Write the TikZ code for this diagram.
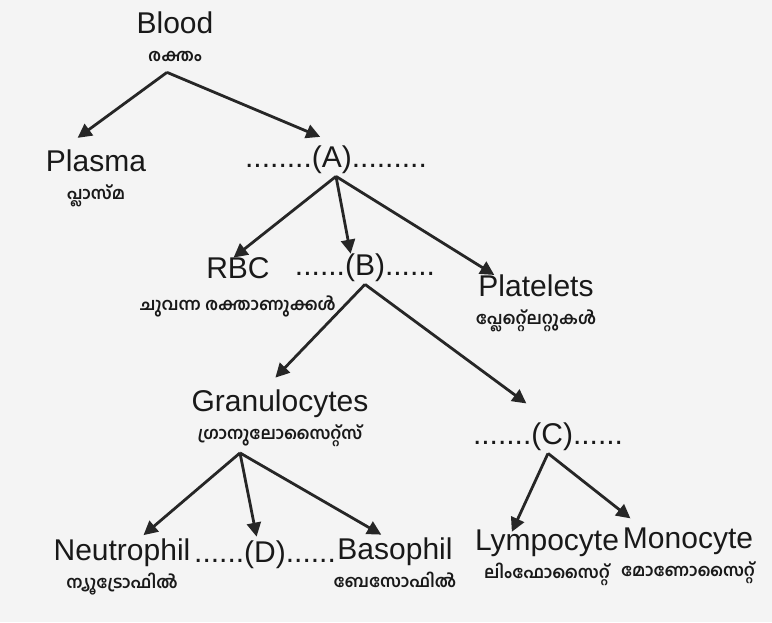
\documentclass[tikz,border=0pt]{standalone}
\usepackage{fontspec}
\setmainfont{Liberation Sans}
\newfontfamily\malfont[Script=Malayalam]{Hind Kochi}
\usetikzlibrary{arrows.meta}

\begin{document}
\begin{tikzpicture}[
    x=0.5pt, y=-0.5pt,
    item/.style={align=center, text=black!90, inner sep=1pt,
        font=\fontsize{15}{14}\selectfont},
    blank/.style={text=black!90, inner sep=1pt, font=\fontsize{15}{18}\selectfont},
    edge/.style={line width=1.4pt, draw=black!85,
        -{Triangle[length=7pt, width=7pt]}, shorten >=1pt}
]
\newcommand{\mal}[1]{{\malfont\fontsize{8.5}{10}\selectfont\bfseries #1}}

% Background
\fill[gray!9] (0,0) rectangle (772,622);
\useasboundingbox (0,0) rectangle (772,622);

% Define nodes
\node[item] (blood) at (175,37) {Blood\\\mal{രക്തം}};
\node[item] (plasma) at (96,178) {Plasma\\\mal{പ്ലാസ്മ}};
\node[blank] (a) at (336,160) {........(A).........};
\node[item] (rbc) at (238,287) {RBC\\[2pt]\mal{ചുവന്ന രക്താണുക്കൾ}};
\node[blank] (b) at (365,268) {......(B)......};
\node[item] (platelets) at (536,303) {Platelets\\\mal{പ്ലേറ്റ്ലെറ്റുകൾ}};
\node[item] (granulo) at (280,418) {Granulocytes\\\mal{ഗ്രാനുലോസൈറ്റ്സ്}};
\node[blank] (c) at (548,437) {.......(C)......};
\node[item] (neutro) at (122,567) {Neutrophil\\\mal{ന്യൂട്രോഫിൽ}};
\node[blank] (d) at (265,555) {......(D)......};
\node[item] (baso) at (395,563) {Basophil\\\mal{ബേസോഫിൽ}};
\node[item] (lympho) at (547,558) {Lympocyte\\\mal{ലിംഫോസൈറ്റ്}};
\node[item] (mono) at (688,556) {Monocyte\\\mal{മോണോസൈറ്റ്}};

% Define edges
\draw[edge] ([xshift=-4pt,yshift=-4pt]blood.south) -- ([xshift=-10pt,yshift=4pt]plasma.north);
\draw[edge] ([xshift=-4pt,yshift=-4pt]blood.south) -- ([xshift=-7pt,yshift=3pt]a.north);
\draw[edge] (a.south) -- ([xshift=-3pt,yshift=-2pt]rbc.north);
\draw[edge] (a.south) -- ([xshift=-7pt,yshift=-2pt]b.north);
\draw[edge] (a.south) -- ([xshift=-20pt,yshift=-2pt]platelets.north);
\draw[edge] (b.south) -- ([xshift=-3pt,yshift=4pt]granulo.north);
\draw[edge] (b.south) -- ([xshift=-10pt,yshift=8pt]c.north);
\draw[edge] ([xshift=-20pt,yshift=-2pt]granulo.south) -- ([xshift=10pt]neutro.north);
\draw[edge] ([xshift=-20pt,yshift=-2pt]granulo.south) -- ([xshift=-4pt]d.north);
\draw[edge] ([xshift=-20pt,yshift=-2pt]granulo.south) -- ([xshift=-6pt]baso.north);
\draw[edge] (c.south) -- ([xshift=-18pt,yshift=-3pt]lympho.north);
\draw[edge] (c.south) -- ([xshift=-28pt,yshift=3pt]mono.north);

\end{tikzpicture}
\end{document}
